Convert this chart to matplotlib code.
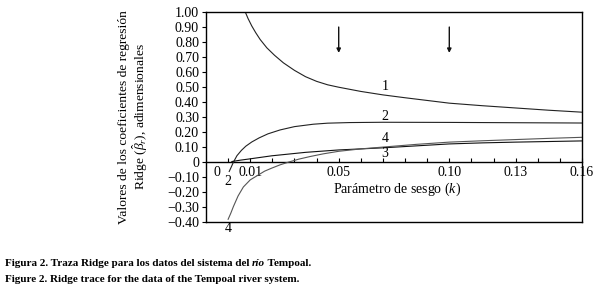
import matplotlib
matplotlib.use("Agg")
import matplotlib.pyplot as plt
import numpy as np

plt.rcParams['font.family'] = ['Liberation Serif', 'DejaVu Serif']
plt.rcParams['mathtext.fontset'] = 'custom'
plt.rcParams['mathtext.rm'] = 'Liberation Serif'
plt.rcParams['mathtext.it'] = 'Liberation Serif:italic'

# ---- data ----
k1 = [0.0077, 0.009, 0.0107, 0.0125, 0.0145, 0.0175, 0.021, 0.025, 0.03, 0.035, 0.04, 0.045,
      0.05, 0.06, 0.07, 0.08, 0.09, 0.10, 0.115, 0.13, 0.145, 0.16]
b1 = [1.00, 0.955, 0.905, 0.86, 0.815, 0.76, 0.71, 0.66, 0.61, 0.568, 0.537, 0.514,
      0.498, 0.47, 0.447, 0.428, 0.41, 0.392, 0.375, 0.36, 0.345, 0.332]

k2 = [0.0005, 0.0015, 0.0024, 0.004, 0.006, 0.008, 0.0107, 0.014, 0.018, 0.0235, 0.03,
      0.0385, 0.045, 0.055, 0.07, 0.10, 0.13, 0.16]
b2 = [-0.062, -0.03, 0.0, 0.043, 0.078, 0.106, 0.134, 0.161, 0.188, 0.214, 0.236,
      0.252, 0.259, 0.263, 0.265, 0.264, 0.262, 0.26]

k3 = [0.0017, 0.0055, 0.01, 0.0197, 0.035, 0.05, 0.07, 0.085, 0.10, 0.115, 0.13, 0.145, 0.16]
b3 = [0.004, 0.013, 0.022, 0.042, 0.065, 0.081, 0.095, 0.108, 0.121, 0.128, 0.133, 0.137, 0.141]

k4 = [0.0, 0.0012, 0.0024, 0.0045, 0.0069, 0.01, 0.0137, 0.0165, 0.0197, 0.0235, 0.0273,
      0.032, 0.037, 0.043, 0.05, 0.06, 0.07, 0.085, 0.10, 0.115, 0.13, 0.145, 0.16]
b4 = [-0.38, -0.34, -0.295, -0.225, -0.165, -0.118, -0.085, -0.06, -0.04, -0.018, 0.0,
      0.02, 0.037, 0.055, 0.072, 0.088, 0.10, 0.118, 0.133, 0.142, 0.15, 0.158, 0.165]

label_pos = [(0.071, 0.506), (0.071, 0.30), (0.071, 0.06), (0.071, 0.16),
             (0.0, -0.13), (0.0, -0.44)]
label_txt = ['1', '2', '3', '4', '2', '4']

arrow_k = [0.05, 0.10]
arrow_top, arrow_bottom = 0.898, 0.726

yticks = [1.0, 0.9, 0.8, 0.7, 0.6, 0.5, 0.4, 0.3, 0.2, 0.1, 0.0, -0.1, -0.2, -0.3, -0.4]
ytick_labels = ['1.00', '0.90', '0.80', '0.70', '0.60', '0.50', '0.40', '0.30', '0.20',
                '0.10', '0', '\u22120.10', '\u22120.20', '\u22120.30', '\u22120.40']
xticks = [round(0.01 * i, 2) for i in range(17)]
xtick_labels = {0.01: '0.01', 0.05: '0.05', 0.10: '0.10', 0.13: '0.13', 0.16: '0.16'}

FS = 10

# ---- figure ----
fig = plt.figure(figsize=(6.03, 2.93), dpi=100)
ax = fig.add_axes([206/603, 1 - 222.3/293, (582 - 206)/603, (222.3 - 11.7)/293])
ax.set_xlim(-0.01, 0.16)
ax.set_ylim(-0.40, 1.00)

lw = 0.8
ax.plot(k1, b1, color='#222222', lw=lw)
ax.plot(k2, b2, color='#222222', lw=lw)
ax.plot(k3, b3, color='#111111', lw=lw)
ax.plot(k4, b4, color='#555555', lw=lw)

for (x, y), t in zip(label_pos, label_txt):
    ax.text(x, y, t, ha='center', va='center', fontsize=FS, clip_on=False)

for xa in arrow_k:
    ax.annotate('', xy=(xa, arrow_bottom), xytext=(xa, arrow_top),
                arrowprops=dict(arrowstyle='-|>', color='#111111', lw=1.0,
                                mutation_scale=6, shrinkA=0, shrinkB=0))

# y axis
ax.set_yticks(yticks)
ax.set_yticklabels(ytick_labels)
ax.tick_params(axis='y', direction='out', length=3, width=0.8, labelsize=FS, pad=2)
ax.set_xticks([])
for s in ax.spines.values():
    s.set_linewidth(1.0)

# x axis on the zero line
zero_pos = (0 - (-0.40)) / (1.00 - (-0.40))
sec = ax.secondary_xaxis(zero_pos)
sec.set_xticks(xticks)
sec.set_xticklabels(['' if k == 0 else xtick_labels.get(k, '') for k in xticks])
sec.tick_params(axis='x', direction='in', length=3, width=0.8, labelsize=FS, pad=3)
sec.spines['bottom'].set_linewidth(1.0)
ax.text(-0.005, -0.068, '0', ha='center', va='center', fontsize=FS)

ax.text(0.0764, -0.184, 'Parámetro de sesgo ($k$)', ha='center', va='center', fontsize=FS)

ax.set_ylabel('Valores de los coeficientes de regresión\nRidge ($\\hat{\\beta}_r$), adimensionales',
              fontsize=9.7, linespacing=1.05, labelpad=12)

# caption
cap_y = [1 - 263/293, 1 - 279/293]
CFS = 8.0
fig.canvas.draw()
r = fig.canvas.get_renderer()
t1 = fig.text(5/603, cap_y[0], 'Figura 2. Traza Ridge para los datos del sistema del ', fontsize=CFS,
              fontweight='bold', va='center')
bb = t1.get_window_extent(r)
t2 = fig.text(bb.x1 / fig.bbox.width, cap_y[0], 'río', fontsize=CFS, fontweight='bold',
              style='italic', va='center')
bb2 = t2.get_window_extent(r)
fig.text(bb2.x1 / fig.bbox.width, cap_y[0], ' Tempoal.', fontsize=CFS, fontweight='bold', va='center')
fig.text(5/603, cap_y[1], 'Figure 2. Ridge trace for the data of the Tempoal river system.',
         fontsize=CFS, fontweight='bold', va='center')

fig.savefig('out.png', dpi=100)
